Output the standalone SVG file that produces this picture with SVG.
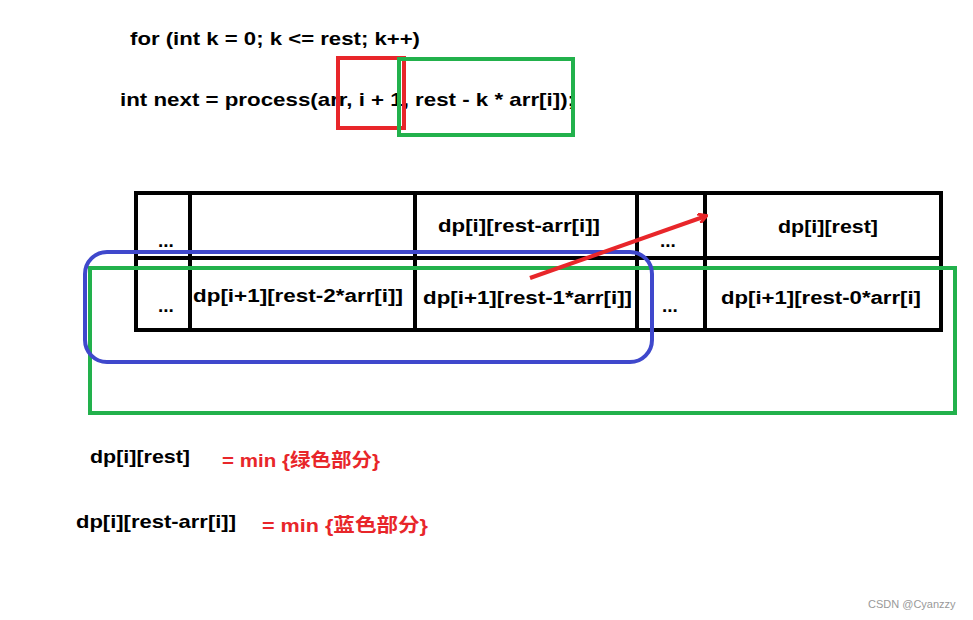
<svg xmlns="http://www.w3.org/2000/svg" width="973" height="620" viewBox="0 0 973 620">
<style>
text{font-family:"Liberation Sans","Noto Sans CJK SC",sans-serif;font-weight:bold;font-size:19px;fill:#000}
.r{fill:#e8262a}
.c{font-size:18px}
</style>
<defs><marker id="ah" markerWidth="10" markerHeight="10" refX="8" refY="5" orient="auto" markerUnits="userSpaceOnUse"><path d="M0,0 L9,5 L0,10" fill="none" stroke="#e8262a" stroke-width="3"/></marker></defs>
<rect width="973" height="620" fill="#fff"/>
<g id="code">
<text x="130" y="45" textLength="290" lengthAdjust="spacingAndGlyphs">for (int k = 0; k &lt;= rest; k++)</text>
<text x="120" y="106" textLength="455" lengthAdjust="spacingAndGlyphs">int next = process(arr, i + 1, rest - k * arr[i]);</text>
</g>
<g id="table" fill="none" stroke="#000" stroke-width="4">
<rect x="136" y="193" width="805" height="137"/>
<line x1="136" y1="258" x2="941" y2="258"/>
<line x1="190" y1="193" x2="190" y2="330"/>
<line x1="415" y1="193" x2="415" y2="330"/>
<line x1="637" y1="193" x2="637" y2="330"/>
<line x1="705" y1="193" x2="705" y2="330"/>
</g>
<g id="cells">
<text x="158" y="247">...</text>
<text x="158" y="312">...</text>
<text x="438" y="232" class="c" textLength="162" lengthAdjust="spacingAndGlyphs">dp[i][rest-arr[i]]</text>
<text x="660" y="247">...</text>
<text x="778" y="233" class="c" textLength="100" lengthAdjust="spacingAndGlyphs">dp[i][rest]</text>
<text x="193" y="302" class="c" textLength="210" lengthAdjust="spacingAndGlyphs">dp[i+1][rest-2*arr[i]]</text>
<text x="423" y="304" class="c" textLength="209" lengthAdjust="spacingAndGlyphs">dp[i+1][rest-1*arr[i]]</text>
<text x="662" y="312">...</text>
<text x="721" y="304" class="c" textLength="200" lengthAdjust="spacingAndGlyphs">dp[i+1][rest-0*arr[i]</text>
</g>
<g id="boxes" fill="none" stroke-width="4">
<rect x="338" y="58" width="66" height="70" stroke="#e8262a"/>
<rect x="399" y="59" width="174" height="76" stroke="#22b14c"/>
<rect x="90" y="268" width="865" height="145" stroke="#22b14c"/>
<rect x="85" y="252" width="567" height="110" rx="22" stroke="#3f48cc"/>
</g>
<g id="connectors">
<line x1="530" y1="278" x2="706" y2="216" stroke="#e8262a" stroke-width="4" marker-end="url(#ah)"/>
</g>
<g id="formulas">
<text x="90" y="463" textLength="100" lengthAdjust="spacingAndGlyphs">dp[i][rest]</text>
<text x="222" y="467" class="r" textLength="158" lengthAdjust="spacingAndGlyphs">= min {绿色部分}</text>
<text x="76" y="528" textLength="160" lengthAdjust="spacingAndGlyphs">dp[i][rest-arr[i]]</text>
<text x="262" y="532" class="r" textLength="166" lengthAdjust="spacingAndGlyphs">=  min {蓝色部分}</text>
</g>
<text x="868" y="608" style="font-weight:normal;font-size:11px;fill:#999">CSDN @Cyanzzy</text>
</svg>
